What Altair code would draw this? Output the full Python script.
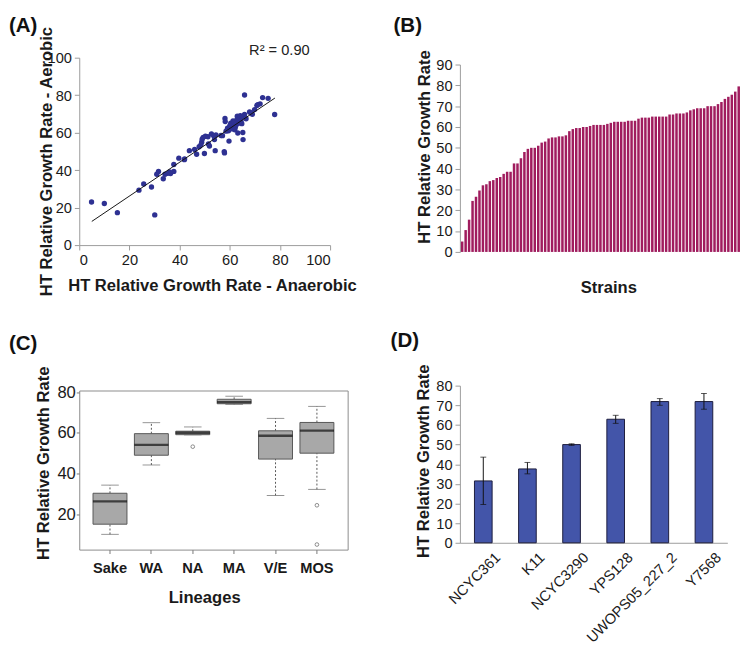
import altair as alt
import pandas as pd

FONT = "Liberation Sans"

# ---------------- (A) scatter: anaerobic vs aerobic ----------------
anaerobic = [4.9, 10.0, 15.2, 23.8, 25.7, 28.8, 30.1, 30.9, 31.6, 33.5, 34.2, 35.3, 36.4, 37.7,
             37.7, 39.7, 41.9, 43.9, 46.8, 47.8, 48.8, 49.4, 49.9, 50.3, 49.0, 48.5, 51.3, 51.9,
             52.7, 53.6, 54.2, 53.9, 57.1, 57.8, 57.9, 58.1, 58.2, 59.1, 59.7, 60.4, 59.5, 60.0,
             60.8, 61.0, 61.3, 61.8, 62.0, 62.5, 62.8, 63.0, 63.2, 63.5, 63.8, 64.2, 64.5, 65.0,
             65.2, 65.3, 65.9, 65.9, 66.5, 67.9, 69.0, 69.9, 71.2, 72.1, 73.1, 75.3, 77.9, 70.8,
             68.5, 61.5, 60.2, 62.2, 58.5, 64.8, 56.5, 54.5, 51.5, 46.0, 42.0, 36.0]
aerobic = [23.0, 22.2, 17.3, 29.3, 32.6, 31.0, 16.1, 37.8, 39.3, 35.4, 37.8, 38.3, 38.2, 39.3,
           43.0, 46.4, 45.6, 50.4, 48.5, 52.5, 54.9, 57.5, 48.9, 58.1, 56.5, 53.5, 57.8, 52.9,
           59.3, 58.4, 50.4, 56.3, 58.4, 49.9, 49.2, 67.6, 65.9, 62.4, 55.5, 65.0, 61.0, 63.5,
           62.0, 64.5, 66.2, 63.0, 61.5, 64.0, 66.8, 68.8, 59.8, 65.0, 67.5, 69.0, 66.0, 68.5,
           60.1, 56.3, 80.1, 69.7, 67.4, 71.0, 69.8, 72.3, 75.0, 75.4, 78.7, 78.3, 69.7, 74.5,
           70.5, 65.5, 64.0, 62.8, 60.8, 64.8, 58.5, 58.8, 54.0, 51.0, 46.0, 39.0]
fit_extent = [5, 78]
r2_text = ["R\u00b2 = 0.90"]

# ---------------- (B) sorted growth rates per strain ----------------
strain_rates = [5, 10.5, 15.5, 24.5, 26.5, 29.5, 32, 32.5, 34, 34.5,
                35.5, 36, 37.5, 38.5, 38.5, 42.5, 42.5, 45, 48, 49.5,
                50, 50, 51, 52.5, 53, 54.5, 55, 55, 55.5, 55.5,
                56, 58, 59, 59.5, 59.5, 60, 60, 60.5, 61, 61,
                61, 61, 61.5, 62, 62.5, 62.5, 62.5, 62.5, 63, 63,
                63, 64, 64.5, 64.5, 64.5, 65, 65, 65, 65, 65,
                66, 66, 66.5, 66.5, 66.5, 67, 68, 68.5, 69, 69,
                69, 70, 70, 70, 71, 72, 73.5, 74.5, 75.5, 77, 79.5]

# ---------------- (C) box plot by lineage ----------------
lineages = ["Sake", "WA", "NA", "MA", "V/E", "MOS"]
lower_whisker = [10.1, 44.2, 59.0, 74.0, 29.2, 32.2]
q1 = [15.1, 49.0, 59.1, 74.3, 47.1, 50.0]
median = [26.3, 54.1, 60.0, 75.1, 58.6, 61.1]
q3 = [30.3, 59.6, 60.8, 76.5, 61.0, 65.1]
upper_whisker = [34.3, 65.0, 62.9, 78.0, 67.1, 73.0]
outlier_lineage = ["NA", "MOS", "MOS"]
outlier_value = [53.2, 24.4, 5.1]

# ---------------- (D) selected strains with error bars ----------------
strains_d = ["NCYC361", "K11", "NCYC3290", "YPS128", "UWOPS05_227_2", "Y7568"]
mean_d = [31.5, 37.6, 50.0, 62.9, 71.9, 71.9]
err_low = [19.5, 35.1, 49.6, 60.8, 70.0, 68.0]
err_high = [43.6, 40.9, 50.4, 64.9, 73.4, 76.0]

TITLE = "HT Relative Growth Rate"


def panel_label(text, dx, dy):
    return alt.Chart(pd.DataFrame({"t": [text]})).mark_text(
        font=FONT, fontSize=21, fontWeight="bold", align="left", baseline="top", color="#111"
    ).encode(text="t:N", x=alt.value(dx), y=alt.value(dy))


# ---- A ----
dfA = pd.DataFrame({"anaerobic": anaerobic, "aerobic": aerobic})
xA = alt.X("anaerobic:Q", scale=alt.Scale(domain=[0, 100], nice=False),
           axis=alt.Axis(values=[0, 20, 40, 60, 80, 100], title=TITLE + " - Anaerobic",
                         titleX=136, titleY=47, titleBaseline="alphabetic", labelPadding=3))
yA = alt.Y("aerobic:Q", scale=alt.Scale(domain=[0, 100], nice=False),
           axis=alt.Axis(values=[0, 20, 40, 60, 80, 100], title=TITLE + " - Aerobic",
                         titleX=-28, titleY=106, titleBaseline="alphabetic", labelPadding=3))
pointsA = alt.Chart(dfA).mark_circle(size=30, color="#2e3192", opacity=1).encode(xA, yA)
fitA = alt.Chart(dfA).transform_regression(
    "anaerobic", "aerobic", extent=fit_extent
).mark_line(color="#111", strokeWidth=1).encode(xA, yA)
r2 = alt.Chart(pd.DataFrame({"t": r2_text})).mark_text(
    font=FONT, fontSize=15, align="left", baseline="middle", color="#222"
).encode(text="t:N", x=alt.value(174), y=alt.value(-8))
A = alt.layer(pointsA, fitA, r2, panel_label("(A)", -72, -43)).properties(width=257, height=192)

# ---- B ----
dfB = pd.DataFrame({"strain": list(range(1, len(strain_rates) + 1)), "rate": strain_rates})
barsB = alt.Chart(dfB).mark_bar(color="#a01c5e").encode(
    x=alt.X("strain:O", scale=alt.Scale(paddingInner=0.28, paddingOuter=0.3),
            axis=alt.Axis(labels=False, ticks=False, domain=False, title="Strains",
                          titleX=152, titleY=42, titleBaseline="alphabetic")),
    y=alt.Y("rate:Q", scale=alt.Scale(domain=[0, 90], range=[199, 7], nice=False),
            axis=alt.Axis(values=list(range(0, 91, 10)), title=TITLE,
                          titleX=-31, titleY=91, titleBaseline="alphabetic", labelPadding=3)),
)
B = alt.layer(barsB, panel_label("(B)", -68, -43)).properties(width=288, height=199)

# ---- C ----
dfC = pd.DataFrame({"lineage": lineages, "lw": lower_whisker, "q1": q1, "med": median,
                    "q3": q3, "uw": upper_whisker})
dfCo = pd.DataFrame({"lineage": outlier_lineage, "val": outlier_value})
xC = alt.X("lineage:N", sort=lineages,
           scale=alt.Scale(paddingInner=0.18, paddingOuter=0.333),
           axis=alt.Axis(title="Lineages", labelAngle=0, labelFontWeight="bold", labelFontSize=15,
                         tickSize=4, domain=False, labelPadding=7, titleX=128, titleY=54,
                         titleBaseline="alphabetic", tickColor="#777"))


def yC(field):
    return alt.Y(field, scale=alt.Scale(domain=[2.6, 80.8], nice=False, zero=False),
                 axis=alt.Axis(values=[20, 40, 60, 80], title=TITLE, labelFontSize=17,
                               tickSize=3, labelPadding=1, domain=False, titleX=-32, titleY=74,
                               titleBaseline="alphabetic", tickColor="#777"))


whisk_lo = alt.Chart(dfC).mark_rule(color="#555", strokeDash=[2, 2], strokeWidth=1).encode(
    xC, yC("lw:Q"), y2="q1:Q")
whisk_hi = alt.Chart(dfC).mark_rule(color="#555", strokeDash=[2, 2], strokeWidth=1).encode(
    xC, yC("q3:Q"), y2="uw:Q")
cap_lo = alt.Chart(dfC).mark_tick(color="#666", size=18, thickness=1).encode(xC, yC("lw:Q"))
cap_hi = alt.Chart(dfC).mark_tick(color="#666", size=18, thickness=1).encode(xC, yC("uw:Q"))
boxC = alt.Chart(dfC).mark_bar(color="#a8a8a8", stroke="#555", strokeWidth=1).encode(
    xC, yC("q1:Q"), y2="q3:Q")
medC = alt.Chart(dfC).mark_tick(color="#111", size=35, thickness=2.5).encode(xC, yC("med:Q"))
outC = alt.Chart(dfCo).mark_point(shape="circle", filled=False, size=14, color="#333",
                                  strokeWidth=0.8).encode(xC, yC("val:Q"))
C = alt.layer(whisk_lo, whisk_hi, cap_lo, cap_hi, boxC, medC, outC,
              panel_label("(C)", -72, -59)).properties(
    width=275, height=163, view=alt.ViewBackground(stroke="#8a8a8a", strokeWidth=1))

# ---- D ----
dfD = pd.DataFrame({"strain": strains_d, "mean": mean_d, "lo": err_low, "hi": err_high})
xD = alt.X("strain:N", sort=strains_d,
           scale=alt.Scale(paddingInner=0.6, paddingOuter=0.33),
           axis=alt.Axis(title=None, labelAngle=-45, labelFontSize=15, ticks=False,
                         labelOffset=10, labelPadding=7, offset=-7))


def yD(field):
    return alt.Y(field, scale=alt.Scale(domain=[0, 80], range=[156, -5], nice=False),
                 axis=alt.Axis(values=list(range(0, 81, 10)), title=TITLE, titleX=-32,
                               titleY=72, titleBaseline="alphabetic", labelPadding=3))


barsD = alt.Chart(dfD).mark_bar(color="#4355a9", stroke="#1c1c3c", strokeWidth=1).encode(
    xD, yD("mean:Q"))
errD = alt.Chart(dfD).mark_rule(color="#111", strokeWidth=1).encode(xD, yD("lo:Q"), y2="hi:Q")
capDlo = alt.Chart(dfD).mark_tick(color="#111", size=6, thickness=1).encode(xD, yD("lo:Q"))
capDhi = alt.Chart(dfD).mark_tick(color="#111", size=6, thickness=1).encode(xD, yD("hi:Q"))
D = alt.layer(barsD, errD, capDlo, capDhi, panel_label("(D)", -71, -62)).properties(
    width=274, height=163)

chart = alt.concat(
    A, B, C, D, columns=2, spacing={"row": 142, "column": 115}, bounds="flush", align="each"
).properties(padding=0).configure(font=FONT).configure_view(stroke=None).configure_axis(
    domainColor="#9a9a9a", tickColor="#9a9a9a", tickSize=5, labelColor="#1a1a1a",
    labelFontSize=15, labelFont=FONT, titleFont=FONT, titleFontSize=17, titleFontWeight="bold",
    titleColor="#1a1a1a", grid=False
)

chart.save("out.html", embed_options={"renderer": "svg", "actions": False})
